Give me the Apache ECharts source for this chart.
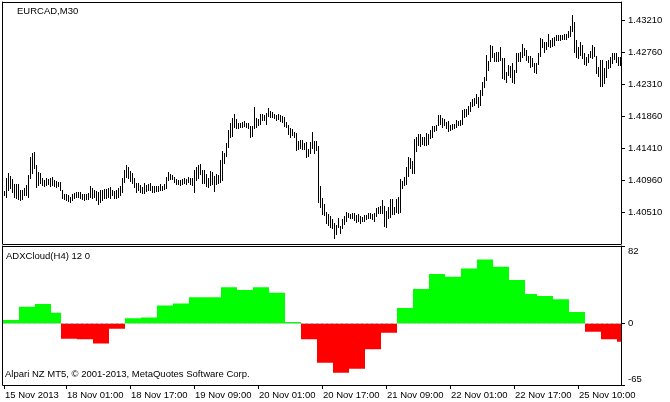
<!DOCTYPE html>
<html><head><meta charset="utf-8">
<script src="https://cdn.jsdelivr.net/npm/echarts@6/dist/echarts.min.js"></script>
<style>html,body{margin:0;padding:0;background:#fff}#c{width:670px;height:402px}</style>
</head><body><div id="c"></div>
<script>
// EURCAD M30 bar highs / lows
const highs = [
1.40805,1.40984,1.41054,1.41020,1.40974,1.40900,1.40900,1.40900,1.40819,1.40819,
1.40851,1.40889,1.41030,1.41287,1.41336,1.41350,1.41171,1.41068,1.41054,1.40984,
1.40956,1.40992,1.40974,1.40984,1.41006,1.40960,1.40946,1.40936,1.40936,1.40819,
1.40759,1.40759,1.40749,1.40725,1.40759,1.40773,1.40787,1.40795,1.40787,1.40759,
1.40759,1.40759,1.40773,1.40879,1.40843,1.40819,1.40805,1.40787,1.40819,1.40819,
1.40833,1.40833,1.40843,1.40861,1.40819,1.40805,1.40819,1.40843,1.40879,1.40984,
1.41100,1.41171,1.41147,1.41086,1.41054,1.40984,1.40914,1.40914,1.40889,1.40865,
1.40914,1.40889,1.40900,1.40914,1.40879,1.40879,1.40879,1.40879,1.40900,1.40879,
1.40900,1.41006,1.41068,1.41040,1.41030,1.41006,1.40974,1.40960,1.40960,1.40974,
1.40984,1.40974,1.41006,1.40992,1.40984,1.41100,1.41147,1.41171,1.41181,1.41100,
1.41100,1.41040,1.40992,1.41086,1.41068,1.41016,1.41044,1.41030,1.41241,1.41372,
1.41336,1.41484,1.41663,1.41766,1.41828,1.41888,1.41814,1.41766,1.41766,1.41780,
1.41794,1.41766,1.41758,1.41719,1.41719,1.41990,1.41828,1.41814,1.41888,1.41888,
1.41874,1.41906,1.41968,1.41934,1.41920,1.41888,1.41874,1.41888,1.41874,1.41860,
1.41850,1.41780,1.41733,1.41687,1.41673,1.41639,1.41625,1.41512,1.41522,1.41522,
1.41484,1.41498,1.41392,1.41498,1.41639,1.41512,1.41512,1.41438,1.40875,1.40703,
1.40623,1.40514,1.40482,1.40454,1.40408,1.40359,1.40327,1.40422,1.40313,1.40408,
1.40454,1.40514,1.40500,1.40482,1.40500,1.40500,1.40468,1.40482,1.40454,1.40436,
1.40468,1.40468,1.40500,1.40500,1.40482,1.40500,1.40562,1.40584,1.40594,1.40679,
1.40594,1.40528,1.40576,1.40689,1.40689,1.40576,1.40689,1.40717,1.40970,1.40950,
1.40998,1.41139,1.41279,1.41265,1.41231,1.41533,1.41561,1.41607,1.41607,1.41569,
1.41565,1.41617,1.41607,1.41663,1.41719,1.41726,1.41733,1.41874,1.41874,1.41828,
1.41814,1.41780,1.41794,1.41733,1.41748,1.41748,1.41804,1.41794,1.41804,1.41944,
1.41954,1.41954,1.42000,1.42061,1.42095,1.42109,1.42169,1.42123,1.42225,1.42342,
1.42412,1.42718,1.42637,1.42858,1.42844,1.42750,1.42764,1.42764,1.42834,1.42672,
1.42672,1.42483,1.42577,1.42563,1.42609,1.42507,1.42742,1.42750,1.42764,1.42873,
1.42812,1.42788,1.42704,1.42704,1.42672,1.42609,1.42601,1.42750,1.42953,1.42939,
1.42905,1.42905,1.43013,1.42929,1.42953,1.42975,1.42999,1.42999,1.42999,1.42999,
1.43013,1.43013,1.43059,1.43125,1.43280,1.43186,1.42929,1.42826,1.42905,1.42858,
1.42750,1.42694,1.42732,1.42778,1.42858,1.42826,1.42704,1.42545,1.42647,1.42647,
1.42531,1.42637,1.42647,1.42694,1.42750,1.42750,1.42742,1.42686,1.42694
];
const lows = [
1.40749,1.40725,1.40819,1.40843,1.40787,1.40721,1.40711,1.40693,1.40675,1.40693,
1.40749,1.40749,1.40725,1.40992,1.41054,1.41125,1.40865,1.40889,1.40914,1.40889,
1.40879,1.40889,1.40900,1.40879,1.40889,1.40879,1.40865,1.40879,1.40819,1.40711,
1.40693,1.40679,1.40665,1.40647,1.40675,1.40703,1.40725,1.40725,1.40711,1.40693,
1.40679,1.40693,1.40693,1.40725,1.40703,1.40725,1.40679,1.40619,1.40655,1.40679,
1.40711,1.40707,1.40725,1.40703,1.40749,1.40703,1.40711,1.40725,1.40749,1.40795,
1.40936,1.41006,1.40984,1.40946,1.40914,1.40865,1.40795,1.40819,1.40787,1.40773,
1.40773,1.40805,1.40819,1.40819,1.40795,1.40795,1.40805,1.40805,1.40819,1.40819,
1.40833,1.40851,1.40960,1.40974,1.40974,1.40928,1.40900,1.40900,1.40889,1.40900,
1.40914,1.40900,1.40928,1.40900,1.40889,1.40795,1.40960,1.40992,1.41040,1.40914,
1.40914,1.40879,1.40865,1.40889,1.40900,1.40805,1.40904,1.40914,1.40936,1.40960,
1.41195,1.41297,1.41428,1.41569,1.41579,1.41709,1.41687,1.41687,1.41701,1.41709,
1.41719,1.41701,1.41687,1.41561,1.41579,1.41687,1.41709,1.41733,1.41748,1.41804,
1.41804,1.41748,1.41860,1.41842,1.41842,1.41828,1.41804,1.41814,1.41794,1.41780,
1.41719,1.41709,1.41607,1.41569,1.41593,1.41561,1.41382,1.41392,1.41406,1.41392,
1.41392,1.41279,1.41297,1.41336,1.41406,1.41344,1.41382,1.40651,1.40576,1.40482,
1.40468,1.40359,1.40327,1.40303,1.40281,1.40140,1.40201,1.40295,1.40219,1.40281,
1.40341,1.40387,1.40436,1.40422,1.40422,1.40397,1.40373,1.40387,1.40351,1.40387,
1.40387,1.40408,1.40422,1.40422,1.40408,1.40387,1.40454,1.40500,1.40500,1.40500,
1.40313,1.40295,1.40422,1.40436,1.40482,1.40482,1.40514,1.40500,1.40514,1.40843,
1.40889,1.40904,1.41016,1.41125,1.41054,1.41054,1.41372,1.41452,1.41438,1.41466,
1.41452,1.41452,1.41466,1.41547,1.41569,1.41642,1.41663,1.41733,1.41748,1.41709,
1.41733,1.41687,1.41653,1.41663,1.41673,1.41687,1.41709,1.41733,1.41733,1.41748,
1.41850,1.41860,1.41888,1.41934,1.42000,1.42014,1.42047,1.41982,1.42014,1.42155,
1.42264,1.42366,1.42507,1.42637,1.42686,1.42637,1.42637,1.42637,1.42647,1.42390,
1.42376,1.42342,1.42436,1.42404,1.42342,1.42328,1.42479,1.42637,1.42637,1.42686,
1.42718,1.42647,1.42623,1.42553,1.42563,1.42483,1.42469,1.42591,1.42704,1.42826,
1.42764,1.42798,1.42844,1.42826,1.42844,1.42858,1.42929,1.42929,1.42929,1.42939,
1.42939,1.42939,1.42975,1.42985,1.43059,1.42764,1.42686,1.42672,1.42718,1.42672,
1.42591,1.42577,1.42623,1.42686,1.42672,1.42704,1.42469,1.42422,1.42282,1.42282,
1.42320,1.42412,1.42531,1.42553,1.42609,1.42658,1.42623,1.42577,1.42577
];
// ADXCloud(H4) values, one per H4 step, and how many M30 bars each step covers
const adxValues = [3.7,17.8,20.6,11.4,-16,-16.7,-21,-5.5,5.5,6.5,19.2,21.3,27.7,27.7,38.3,35.4,38.3,32.6,1.6,-16.7,
  -41.4,-52,-47.8,-27.3,-9.7,16.4,36.5,52.3,49.5,58.3,67.8,60,46,31.2,29,25.6,12.2,-8.6,-16.7,-19.2];
const adxSpans  = [8,8,8,5,8,8,8,8,8,8,8,8,8,8,8,8,8,8,8,8,
  8,8,8,8,8,8,8,8,8,8,8,8,8,6,8,8,8,8,8,2];
const adxLevel = 0;
// time axis labels and the bar each belongs to
const xTickLabels = ['15 Nov 2013','18 Nov 01:00','18 Nov 17:00','19 Nov 09:00','20 Nov 01:00','20 Nov 17:00','21 Nov 09:00','22 Nov 01:00','22 Nov 17:00','25 Nov 10:00'];
const xTickBars = [0,31,63,95,127,159,191,223,255,287];
const priceTicks = [1.40510,1.40960,1.41410,1.41860,1.42310,1.42760,1.43210];
const priceMin = 1.40060, priceMax = 1.43463;
const adxTicks = [-65, 0, 82];

const adxPerBar = [];
adxValues.forEach((v, k) => { for (let j = 0; j < adxSpans[k]; j++) adxPerBar.push(v); });
const categories = highs.map((_, i) => String(i));
const labelByBar = {};
xTickBars.forEach((b, k) => { labelByBar[b] = xTickLabels[k]; });

const FONT = 'Liberation Sans';
const txt = { color: '#000', fontFamily: FONT, fontSize: 9.5 };
const blackLine = { show: true, onZero: false, lineStyle: { color: '#000', width: 1 } };
const off = { show: false };

const chart = echarts.init(document.getElementById('c'), null, { renderer: 'canvas' });
chart.setOption({
  animation: false,
  backgroundColor: '#fff',
  title: [
    { text: 'EURCAD,M30', left: 17, top: 6, padding: 0, textStyle: Object.assign({ fontWeight: 'normal' }, txt) },
    { text: 'ADXCloud(H4) 12 0', left: 6, top: 251, padding: 0, textStyle: Object.assign({ fontWeight: 'normal' }, txt) },
    { text: 'Alpari NZ MT5, \u00a9 2001-2013, MetaQuotes Software Corp.', left: 5, top: 369, padding: 0, textStyle: Object.assign({ fontWeight: 'normal' }, txt) }
  ],
  grid: [
    { left: 3, width: 618, top: 2, height: 242 },
    { left: 3, width: 618, top: 246, height: 139 }
  ],
  xAxis: [
    { gridIndex: 0, type: 'category', data: categories, position: 'bottom', axisLine: blackLine, axisTick: off, axisLabel: off, splitLine: off },
    { gridIndex: 0, type: 'category', data: categories, position: 'top', axisLine: blackLine, axisTick: off, axisLabel: off, splitLine: off },
    { gridIndex: 1, type: 'category', data: categories, position: 'bottom', axisLine: blackLine,
      axisTick: { show: true, alignWithLabel: true, length: 4, lineStyle: { color: '#000' }, interval: (i) => labelByBar[i] !== undefined },
      axisLabel: Object.assign({ show: true, align: 'left', margin: 5, padding: [0, 0, 0, 1],
        interval: (i) => labelByBar[i] !== undefined,
        formatter: (v, i) => labelByBar[i] || '' }, txt),
      splitLine: off },
    { gridIndex: 1, type: 'category', data: categories, position: 'top', axisLine: blackLine, axisTick: off, axisLabel: off, splitLine: off }
  ],
  yAxis: [
    { gridIndex: 0, type: 'value', position: 'right', min: priceMin, max: priceMax, axisLine: blackLine,
      axisTick: { show: true, length: 4, lineStyle: { color: '#000' }, customValues: priceTicks },
      axisLabel: Object.assign({ show: true, margin: 7, customValues: priceTicks, formatter: (v) => v.toFixed(5) }, txt),
      splitLine: off },
    { gridIndex: 0, type: 'value', position: 'left', offset: 1, min: priceMin, max: priceMax, axisLine: blackLine, axisTick: off, axisLabel: off, splitLine: off },
    { gridIndex: 1, type: 'value', position: 'right', min: adxTicks[0], max: adxTicks[2], axisLine: blackLine,
      axisTick: { show: true, length: 4, lineStyle: { color: '#000' }, customValues: adxTicks },
      axisLabel: Object.assign({ show: true, margin: 7, customValues: adxTicks,
        formatter: (v) => v === adxTicks[2] ? '{t|' + v + '}' : (v === adxTicks[0] ? '{b|' + v + '}' : String(v)),
        rich: {
          t: Object.assign({ padding: [11, 0, 0, 0] }, txt),
          b: Object.assign({ padding: [0, 0, 11, 0] }, txt)
        } }, txt),
      splitLine: off },
    { gridIndex: 1, type: 'value', position: 'left', offset: 1, min: adxTicks[0], max: adxTicks[2], axisLine: blackLine, axisTick: off, axisLabel: off, splitLine: off }
  ],
  series: [
    {
      type: 'custom', xAxisIndex: 0, yAxisIndex: 0,
      data: highs.map((h, i) => [i, lows[i], h]),
      encode: { x: 0, y: [1, 2] },
      renderItem: (params, api) => {
        const lo = api.coord([api.value(0), api.value(1)]);
        const hi = api.coord([api.value(0), api.value(2)]);
        const y0 = Math.round(hi[1]);
        const y1 = Math.round(lo[1]);
        return { type: 'rect', shape: { x: Math.round(lo[0]), y: y0, width: 1, height: Math.max(1, y1 - y0 + 1) }, style: { fill: '#000' } };
      }
    },
    {
      type: 'bar', xAxisIndex: 2, yAxisIndex: 2, z: 2,
      data: adxPerBar,
      barCategoryGap: '0%', barGap: '0%',
      itemStyle: { color: (p) => p.value >= 0 ? '#00ff00' : '#ff0000' }
    },
    {
      // dotted zero level of the indicator window, drawn above the histogram
      type: 'custom', xAxisIndex: 2, yAxisIndex: 2, z: 10, silent: true,
      data: [[0, adxLevel]],
      renderItem: (params, api) => {
        const a = api.coord([0, api.value(1)]);
        const cs = params.coordSys;
        const y = Math.floor(a[1]) + 0.5;
        return { type: 'line', shape: { x1: cs.x, y1: y, x2: cs.x + cs.width, y2: y },
          style: { stroke: '#c0c0c0', lineWidth: 1, lineDash: [3, 2] } };
      }
    }
  ]
});
</script>
</body></html>
